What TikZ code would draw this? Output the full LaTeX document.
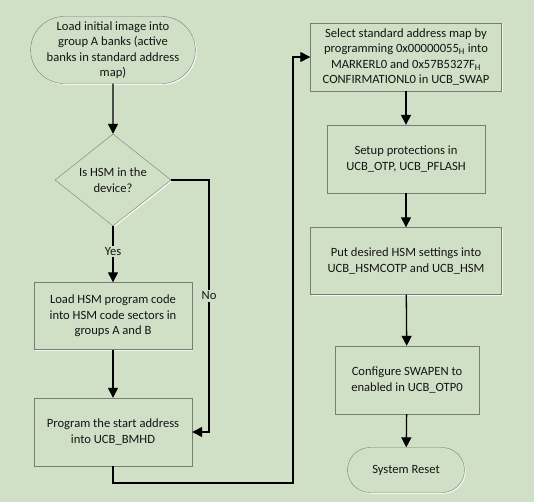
\documentclass[tikz,border=0pt]{standalone}
\usepackage{fontspec}
\setmainfont{Carlito}
\usetikzlibrary{shapes.geometric,shapes.misc,arrows.meta,shadows}
\definecolor{bg}{RGB}{208,224,198}
\definecolor{boxline}{RGB}{120,124,118}
\definecolor{ink}{RGB}{20,20,20}
\tikzset{
  proc/.style={draw=boxline, fill=bg, text=ink, align=center, inner sep=0pt,
    drop shadow={shadow xshift=1.3pt, shadow yshift=-1.3pt, fill=white, opacity=0.75}},
  term/.style={proc, rounded rectangle},
  decide/.style={proc, diamond},
  flow/.style={line width=1.3pt, -{Triangle[width=10pt,length=10pt]}},
  lbl/.style={fill=bg, text=ink, inner sep=1.5pt}
}
\begin{document}
\begin{tikzpicture}[x=1pt, y=-1pt, font=\fontsize{12.6}{15.5}\selectfont]
      \fill[bg] (0,0) rectangle (534,502);
      \useasboundingbox (0,0) rectangle (534,502);
      \path
        (113,50) node[term, minimum width=153pt, minimum height=67pt] (start){Load initial image into\\group A banks (active\\banks in standard address\\map)}
        (113,180) node[decide, minimum width=116pt, minimum height=66pt] (hsmq){Is HSM in the\\device?}
        (113,316) node[proc, minimum width=158pt, minimum height=67pt] (loadhsm){Load HSM program code\\into HSM code sectors in\\groups A and B}
        (113,432) node[proc, minimum width=158pt, minimum height=68pt] (program){Program the start address\\into UCB\_BMHD}
        (406,57) node[proc, minimum width=191pt, minimum height=68pt] (select){Select standard address map by\\programming 0x00000055\textsubscript{H} into\\MARKERL0 and 0x57B5327F\textsubscript{H}\\CONFIRMATIONL0 in UCB\_SWAP}
        (406,159) node[proc, minimum width=158pt, minimum height=68pt] (protect){Setup protections in\\UCB\_OTP, UCB\_PFLASH}
        (406,261) node[proc, minimum width=191pt, minimum height=67pt] (hsmset){Put desired HSM settings into\\UCB\_HSMCOTP and UCB\_HSM}
        (407,380) node[proc, minimum width=144pt, minimum height=68pt] (swapen){Configure SWAPEN to\\enabled in UCB\_OTP0}
        (406,470) node[term, minimum width=117pt, minimum height=45pt] (reset){System Reset};
      \coordinate (nobend) at (209,180);
      \coordinate (backbend) at (293,483);
      \begin{scope}[flow]
        \draw (start) to (hsmq);
        \draw (hsmq) to node[lbl, pos=0.45]{Yes} (loadhsm);
        \draw (hsmq.east) -- (nobend) |- node[lbl, pos=0.23]{No} (program.east);
        \draw (loadhsm) to (program);
        \draw (program.south) |- (backbend) |- (select.west);
        \draw (select) to (protect);
        \draw (protect) to (hsmset);
        \draw (hsmset) to (swapen);
        \draw (swapen) to (reset);
      \end{scope}
    \end{tikzpicture}
\end{document}
